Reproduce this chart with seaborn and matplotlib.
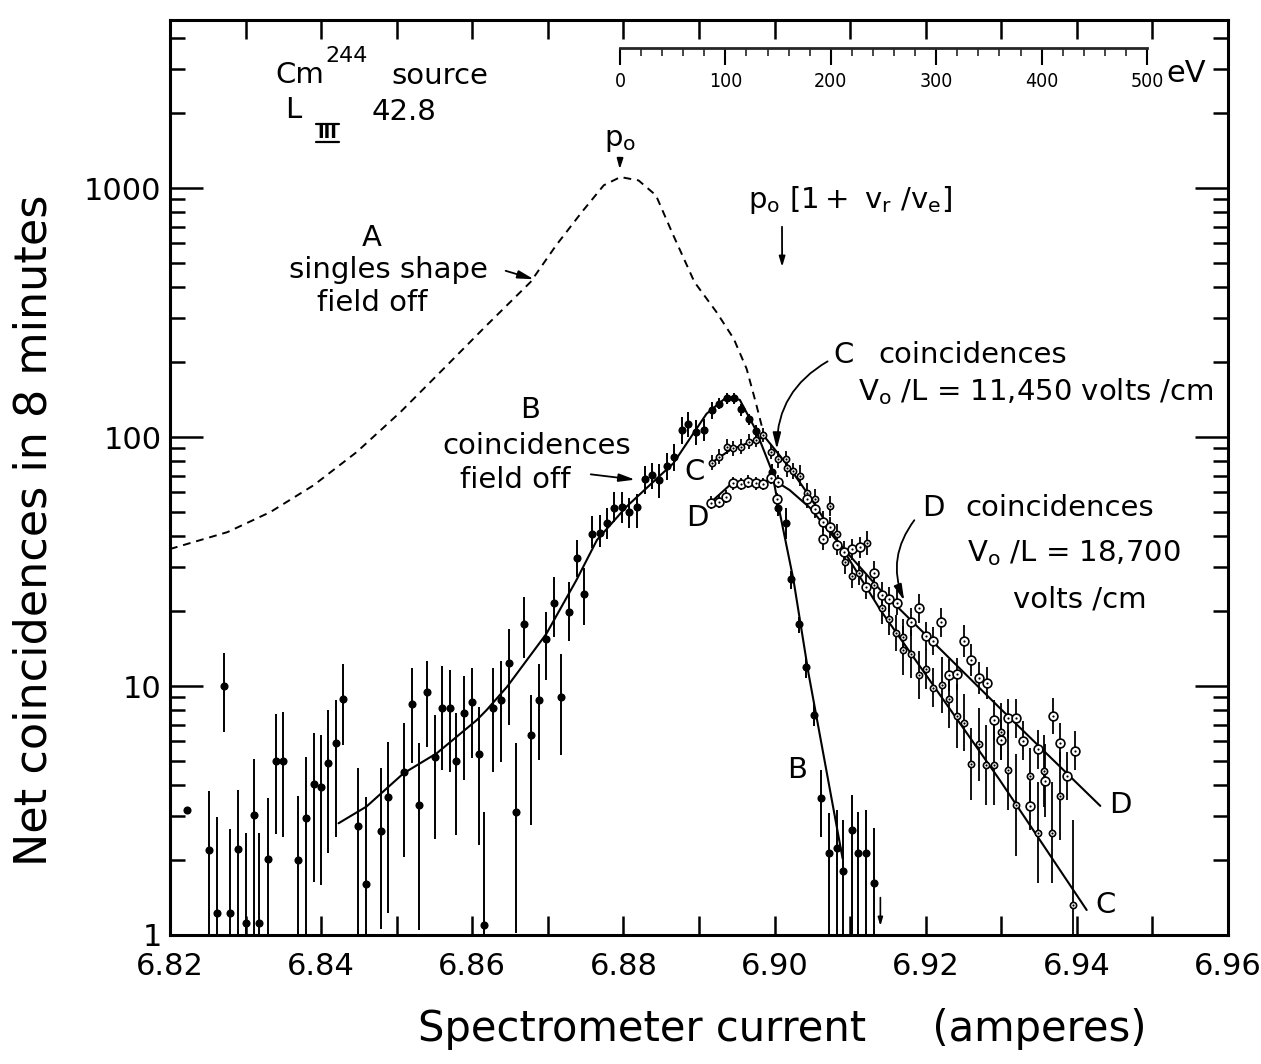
import numpy as np
import pandas as pd
import matplotlib
matplotlib.use("Agg")
import matplotlib.pyplot as plt
from matplotlib.lines import Line2D
from matplotlib.ticker import MultipleLocator, LogLocator, NullFormatter, FixedFormatter, FixedLocator
import seaborn as sns

# ---------------------------------------------------------------
# data (current in amperes, counts in 8 min)
# ---------------------------------------------------------------

# A: singles shape, field off (dashed)
a_x = [6.8200, 6.8276, 6.8333, 6.8390, 6.8447, 6.8505, 6.8562, 6.8619, 6.8677,
       6.8711, 6.8745, 6.8774, 6.8796, 6.8820, 6.8843, 6.8866, 6.8894, 6.8923,
       6.8946, 6.8963, 6.8975, 6.8985]
a_y = [35.5, 41.5, 50, 64, 87, 126, 188, 281, 419,
       589, 801, 1026, 1107, 1073, 935, 646, 419, 318,
       248, 188, 138, 105]

# B: coincidences, field off (filled points, error bar low/high)
b_x = [6.8223, 6.8251, 6.8262, 6.8272, 6.8280, 6.8290, 6.8300, 6.8311, 6.8318, 6.8330,
       6.8340, 6.8350, 6.8370, 6.8380, 6.8390, 6.8400, 6.8409, 6.8419, 6.8429, 6.8449,
       6.8459, 6.8479, 6.8489, 6.8509, 6.8520, 6.8529, 6.8540, 6.8550, 6.8560, 6.8570,
       6.8579, 6.8589, 6.8600, 6.8609, 6.8616, 6.8627, 6.8638, 6.8648, 6.8658, 6.8668,
       6.8678, 6.8688, 6.8698, 6.8708, 6.8718, 6.8728, 6.8738, 6.8748, 6.8759, 6.8769,
       6.8778, 6.8788, 6.8798, 6.8808, 6.8818, 6.8828, 6.8838, 6.8847, 6.8858, 6.8867,
       6.8878, 6.8886, 6.8896, 6.8907, 6.8917, 6.8927, 6.8937, 6.8946, 6.8956, 6.8966,
       6.8975, 6.8996, 6.9004, 6.9015, 6.9022, 6.9032, 6.9042, 6.9052, 6.9062, 6.9072,
       6.9082, 6.9091, 6.9102, 6.9111, 6.9121, 6.9132]
b_y = [3.17, 2.19, 1.22, 10.0, 1.22, 2.22, 1.12, 3.03, 1.12, 2.02,
       5.0, 5.0, 2.0, 2.94, 4.05, 3.93, 4.9, 5.89, 8.84, 2.75,
       1.61, 2.62, 3.57, 4.5, 8.46, 3.34, 9.44, 5.2, 8.13, 8.13,
       5.0, 7.77, 8.62, 5.32, 1.1, 8.13, 8.76, 12.4, 3.13, 17.7,
       6.37, 8.76, 15.4, 21.6, 9.0, 19.8, 32.6, 23.5, 40.8, 41.2,
       45.0, 52, 52.4, 50.0, 52.4, 67.6, 70.3, 67, 76.7, 83.4,
       107, 113, 105, 107, 128, 136, 143, 143, 129, 118,
       106, 72.6, 52, 45.3, 26.8, 17.7, 11.9, 7.65, 3.56, 2.13,
       2.23, 1.81, 2.64, 2.13, 2.13, 1.62]
b_lo = [3.17, 1, 1, 6.55, 1, 1, 1, 1, 1, 1,
        2.54, 2.48, 1, 1, 1.64, 1.59, 2.13, 2.48, 5.8, 1,
        1, 1.06, 1.22, 2.06, 4.89, 1.05, 5.7, 2.42, 4.6, 4.52,
        2.52, 4.19, 5.12, 2.3, 1, 4.52, 4.97, 6.97, 1.02, 12.9,
        2.77, 5.04, 10.6, 15.7, 5.28, 15.1, 27.4, 17.6, 35.7, 36.3,
        39, 45.7, 45, 43, 43, 59, 62, 57, 67, 73,
        94, 100, 93, 96, 118, 129, 136, 136, 122, 112,
        100, 67, 48, 39, 24.5, 16.4, 10.8, 6.9, 2.48, 1,
        1, 1, 1, 1, 1, 1]
b_hi = [3.17, 3.79, 2.99, 13.6, 2.66, 3.82, 2.56, 5.09, 2.56, 3.56,
        7.7, 7.88, 3.62, 5.2, 6.46, 6.35, 8.0, 8.79, 12.3, 4.67,
        3.59, 4.67, 5.98, 7.08, 11.8, 5.92, 12.6, 7.65, 12.0, 11.6,
        7.77, 11.0, 11.8, 8.26, 3.13, 11.8, 12.6, 17.0, 5.89, 22.7,
        9.2, 12.3, 19.9, 27.5, 13.5, 26.2, 38.7, 29.7, 48.2, 48.7,
        52, 60.3, 60.3, 57, 59, 76.7, 79, 78, 86, 94,
        120, 126, 117, 118, 138, 143, 150, 150, 136, 124,
        112, 78, 56, 52, 29, 19, 13, 8.5, 4.6, 3.08,
        3.17, 2.89, 3.65, 3.13, 3.17, 2.68]

# B: drawn fit curve
bfit_x = [6.8423, 6.8460, 6.8509, 6.8553, 6.8606, 6.8619, 6.8646, 6.8698, 6.8738, 6.8765,
          6.8804, 6.8866, 6.8910, 6.8937, 6.8954, 6.8975, 6.8996, 6.9007, 6.9025, 6.9045,
          6.9090]
bfit_y = [2.81, 3.28, 4.46, 5.37, 7.30, 8.01, 9.93, 16.2, 26.7, 38.6,
          52.5, 78.4, 124, 145, 141, 107, 73.7, 49.5, 26.7, 11.2,
          2.03]

# C: coincidences, V0/L = 11,450 volts/cm (fractional error)
c_x = [6.8917, 6.8927, 6.8937, 6.8945, 6.8956, 6.8966, 6.8976, 6.8985, 6.8995, 6.9005,
       6.9015, 6.9016, 6.9025, 6.9034, 6.9043, 6.9054, 6.9073, 6.9082, 6.9093, 6.9102,
       6.9112, 6.9122, 6.9131, 6.9142, 6.9151, 6.9161, 6.9170, 6.9170, 6.9181, 6.9191,
       6.9200, 6.9210, 6.9221, 6.9231, 6.9241, 6.9251, 6.9260, 6.9271, 6.9280, 6.9290,
       6.9299, 6.9309, 6.9319, 6.9338, 6.9348, 6.9357, 6.9367, 6.9378, 6.9395]
c_y = [78.8, 83.4, 91.4, 90.1, 91.4, 95.7, 97.3, 102, 87.3, 81.4,
       81.4, 74.9, 73.0, 69.9, 59.4, 56.2, 52.8, 40.8, 31.6, 27.7,
       28.5, 37.6, 25.4, 20.5, 18.5, 16.3, 15.7, 13.9, 13.4, 11.1,
       11.7, 9.84, 10.1, 8.84, 7.58, 7.12, 4.86, 5.83, 4.82, 4.82,
       6.55, 4.60, 3.33, 4.35, 2.58, 4.56, 2.58, 3.62, 1.32]
c_err = [0.07, 0.07, 0.07, 0.07, 0.07, 0.07, 0.07, 0.07, 0.07, 0.08,
         0.08, 0.08, 0.08, 0.10, 0.10, 0.10, 0.10, 0.10, 0.12, 0.12,
         0.12, 0.12, 0.15, 0.15, 0.15, 0.18, 0.18, 0.25, 0.25, 0.25,
         0.20, 0.20, 0.30, 0.30, 0.35, 0.30, 0.40, 0.40, 0.45, 0.45,
         0.30, 0.45, 0.60, 0.30, 0.60, 0.40, 0.60, 0.50, 1.20]
cfit_x = [6.8916, 6.8941, 6.8968, 6.8987, 6.9003, 6.9020, 6.9047, 6.9087, 6.9140, 6.9219,
          6.9298, 6.9413]
cfit_y = [78.6, 88.6, 95.5, 100, 87.1, 75.1, 57.4, 36.8, 20.2, 9.2,
          4.19, 1.26]

# D: coincidences, V0/L = 18,700 volts/cm (fractional error)
d_x = [6.8916, 6.8926, 6.8936, 6.8945, 6.8955, 6.8965, 6.8975, 6.8985, 6.8995, 6.9003,
       6.9004, 6.9043, 6.9054, 6.9064, 6.9064, 6.9073, 6.9082, 6.9092, 6.9102, 6.9113,
       6.9121, 6.9132, 6.9142, 6.9151, 6.9162, 6.9181, 6.9191, 6.9200, 6.9210, 6.9220,
       6.9231, 6.9241, 6.9251, 6.9260, 6.9271, 6.9281, 6.9290, 6.9299, 6.9309, 6.9319,
       6.9329, 6.9338, 6.9348, 6.9358, 6.9368, 6.9378, 6.9387, 6.9398]
d_y = [54.5, 55.0, 57.6, 65.2, 64.7, 66.1, 65.2, 64.7, 68.6, 56.2,
       66.1, 56.2, 51.2, 45.7, 38.8, 43.4, 36.8, 34.6, 35.4, 36.1,
       25.0, 28.5, 23.3, 22.3, 21.6, 18.1, 20.5, 15.9, 15.2, 18.0,
       11.1, 11.2, 15.1, 12.7, 10.8, 10.3, 7.30, 6.07, 7.42, 7.42,
       6.03, 3.30, 5.57, 4.17, 7.60, 5.92, 4.35, 5.50]
d_err = [0.06, 0.06, 0.06, 0.06, 0.06, 0.06, 0.06, 0.06, 0.06, 0.06,
         0.06, 0.08, 0.08, 0.10, 0.10, 0.10, 0.10, 0.10, 0.10, 0.10,
         0.12, 0.12, 0.12, 0.12, 0.12, 0.14, 0.14, 0.14, 0.14, 0.14,
         0.16, 0.16, 0.16, 0.16, 0.16, 0.16, 0.20, 0.20, 0.20, 0.20,
         0.20, 0.25, 0.20, 0.40, 0.18, 0.20, 0.25, 0.20]
dfit_x = [6.8916, 6.8941, 6.8968, 6.9001, 6.9020, 6.9047, 6.9087, 6.9140, 6.9298, 6.9431]
dfit_y = [54.8, 64.2, 66.6, 66.6, 61.2, 51.9, 36.8, 24.3, 8.16, 3.30]

# energy scale (eV) drawn across the top
ev_major = [0, 100, 200, 300, 400, 500]

x_ticks = [6.82, 6.84, 6.86, 6.88, 6.90, 6.92, 6.94, 6.96]
y_ticks = [1, 10, 100, 1000]
y_ticklabels = ["1", "10", "100", "1000"]

# ---------------------------------------------------------------
W, H = 1261, 1064


def fxy(px, py):
    """pixel position in the reference -> figure fraction"""
    return px / W, 1 - py / H


sns.set_theme(style="ticks")
plt.rcParams["font.family"] = ["DejaVu Sans"]
plt.rcParams["mathtext.default"] = "regular"
plt.rcParams["axes.linewidth"] = 2.2
plt.rcParams["text.color"] = "black"
plt.rcParams["axes.labelcolor"] = "black"

fig = plt.figure(figsize=(W / 100, H / 100), dpi=100)
ax = fig.add_axes([170 / W, 1 - 935 / H, 1058 / W, 915 / H])
ax.set_yscale("log")

# A dashed singles curve
sns.lineplot(x=a_x, y=a_y, ax=ax, color="black", lw=1.4, sort=False,
             estimator=None, linestyle=(0, (4, 3)))

# fit curves
for fx, fy in [(bfit_x, bfit_y), (cfit_x, cfit_y), (dfit_x, dfit_y)]:
    sns.lineplot(x=fx, y=fy, ax=ax, color="black", lw=1.5, sort=False, estimator=None)

# B points
ax.vlines(b_x, b_lo, b_hi, color="black", lw=1.4, zorder=3)
sns.scatterplot(x=b_x, y=b_y, ax=ax, s=34, color="black", linewidth=0, zorder=4)

# C and D points: open circles with a centre dot
for px_, py_, pe, size in [(c_x, c_y, c_err, 20), (d_x, d_y, d_err, 40)]:
    py_arr = np.array(py_)
    pe_arr = np.array(pe)
    ax.vlines(px_, py_arr / (1 + pe_arr), py_arr * (1 + pe_arr), color="black", lw=1.3, zorder=3)
    sns.scatterplot(x=px_, y=py_, ax=ax, s=size, color="white", edgecolor="black",
                    linewidth=1.2, zorder=4)
    sns.scatterplot(x=px_, y=py_, ax=ax, s=2.5, color="black", linewidth=0, zorder=5)

ax.set_xlim(6.82, 6.96)
ax.set_ylim(1, 4730)

# ticks
ax.xaxis.set_major_locator(FixedLocator(x_ticks))
ax.xaxis.set_minor_locator(MultipleLocator(0.01))
ax.set_xticklabels([f"{v:.2f}" for v in x_ticks])
ax.yaxis.set_major_locator(FixedLocator(y_ticks))
ax.yaxis.set_major_formatter(FixedFormatter(y_ticklabels))
ax.yaxis.set_minor_locator(LogLocator(base=10, subs=np.arange(2, 10)))
ax.yaxis.set_minor_formatter(NullFormatter())
ax.tick_params(axis="both", which="both", direction="in", top=True, right=True,
               width=1.8, colors="black")
ax.tick_params(axis="y", which="major", length=24, labelsize=22, pad=6)
ax.tick_params(axis="y", which="minor", length=11)
ax.tick_params(axis="x", which="both", length=14, labelsize=22, pad=12)
for sp in ax.spines.values():
    sp.set_color("black")

ax.set_xlabel("Spectrometer current     (amperes)", fontsize=30)
ax.set_ylabel("Net coincidences in 8 minutes", fontsize=32)
ax.xaxis.set_label_coords((782 - 170) / 1058, (935 - 1008) / 915)
ax.yaxis.set_label_coords((56 - 170) / 1058, (935 - 530) / 915)

# energy scale
ev_ax = fig.add_axes([620 / W, 1 - 48 / H, (1147 - 620) / W, 0.0001])
ev_ax.set_xlim(0, 500)
ev_ax.patch.set_alpha(0)
for side in ["top", "left", "right"]:
    ev_ax.spines[side].set_visible(False)
ev_ax.spines["bottom"].set_linewidth(2.0)
ev_ax.set_yticks([])
ev_ax.xaxis.set_major_locator(FixedLocator(ev_major))
ev_ax.xaxis.set_minor_locator(MultipleLocator(20))
ev_ax.set_xticklabels([str(v) for v in ev_major])
ev_ax.tick_params(axis="x", which="major", direction="out", length=12, width=1.5,
                  labelsize=14, pad=5, colors="black")
ev_ax.tick_params(axis="x", which="minor", direction="out", length=6, width=1.2)
for lab in ev_ax.get_xticklabels():
    lab.set_fontstretch("condensed")
fig.text(*fxy(1186, 74), "eV", fontsize=22, ha="center", va="center")

# annotations
tk = dict(fontsize=21, ha="center", va="center")
fig.text(*fxy(300, 75), "Cm", **tk)
fig.text(*fxy(347, 56), "244", fontsize=16, ha="center", va="center")
fig.text(*fxy(440, 76), "source", **tk)
fig.text(*fxy(293, 110), "L", **tk)
fig.text(*fxy(327, 133), "III", fontsize=13, fontweight="bold", ha="center", va="center")
for yy in (124, 142):
    fig.add_artist(Line2D([316 / W, 339 / W], [1 - yy / H, 1 - yy / H], color="black", lw=1.6))
fig.text(*fxy(404, 112), "42.8", **tk)

fig.text(*fxy(620, 140), r"p$_{o}$", **tk)
ax.annotate("", xy=(6.8795, 1160), xytext=fxy(620, 160), textcoords="figure fraction",
            arrowprops=dict(arrowstyle="-|>,head_length=0.5,head_width=0.15", color="black", lw=1.3))

fig.text(*fxy(748, 200), r"p$_{o}$ $\left[1+\ v_r\ /v_e\right]$", fontsize=21,
         ha="left", va="center")
ax.annotate("", xy=(6.9010, 470), xytext=fxy(782, 224), textcoords="figure fraction",
            arrowprops=dict(arrowstyle="-|>,head_length=0.5,head_width=0.15", color="black", lw=1.3))

fig.text(*fxy(372, 238), "A", **tk)
fig.text(*fxy(388, 270), "singles shape", **tk)
fig.text(*fxy(372, 303), "field off", **tk)
ax.annotate("", xy=(6.8685, 427), xytext=fxy(503, 270), textcoords="figure fraction",
            arrowprops=dict(arrowstyle="-|>,head_length=0.8,head_width=0.2", color="black", lw=1.3))

fig.text(*fxy(530, 410), "B", **tk)
fig.text(*fxy(537, 446), "coincidences", **tk)
fig.text(*fxy(515, 480), "field off", **tk)
ax.annotate("", xy=(6.8819, 67.2), xytext=fxy(588, 474), textcoords="figure fraction",
            arrowprops=dict(arrowstyle="-|>,head_length=0.8,head_width=0.2", color="black", lw=1.3))

fig.text(*fxy(695, 472), "C", **tk)
fig.text(*fxy(697, 518), "D", **tk)

fig.text(*fxy(833, 355), "C", fontsize=21, ha="left", va="center")
fig.text(*fxy(878, 355), "coincidences", fontsize=21, ha="left", va="center")
fig.text(*fxy(858, 392), r"V$_o$ /L = 11,450 volts /cm", fontsize=21, ha="left", va="center")
ax.annotate("", xy=(6.9003, 87.1), xytext=fxy(830, 360), textcoords="figure fraction",
            arrowprops=dict(arrowstyle="-|>,head_length=0.8,head_width=0.2", color="black",
                            lw=1.3, connectionstyle="arc3,rad=0.3"))

fig.text(*fxy(922, 508), "D", fontsize=21, ha="left", va="center")
fig.text(*fxy(965, 508), "coincidences", fontsize=21, ha="left", va="center")
fig.text(*fxy(967, 553), r"V$_o$ /L = 18,700", fontsize=21, ha="left", va="center")
fig.text(*fxy(1013, 600), "volts /cm", fontsize=21, ha="left", va="center")
ax.annotate("", xy=(6.9173, 21.5), xytext=fxy(916, 518), textcoords="figure fraction",
            arrowprops=dict(arrowstyle="-|>,head_length=0.8,head_width=0.2", color="black",
                            lw=1.3, connectionstyle="arc3,rad=0.3"))

fig.text(*fxy(797, 770), "B", **tk)
fig.text(*fxy(1120, 805), "D", **tk)
fig.text(*fxy(1106, 905), "C", **tk)

# B upper-limit arrow near the baseline
ax.annotate("", xy=(6.9140, 1.06), xytext=(6.9140, 1.45),
            arrowprops=dict(arrowstyle="-|>,head_length=0.4,head_width=0.12", color="black", lw=1.2))

fig.savefig("out.png", dpi=100)
